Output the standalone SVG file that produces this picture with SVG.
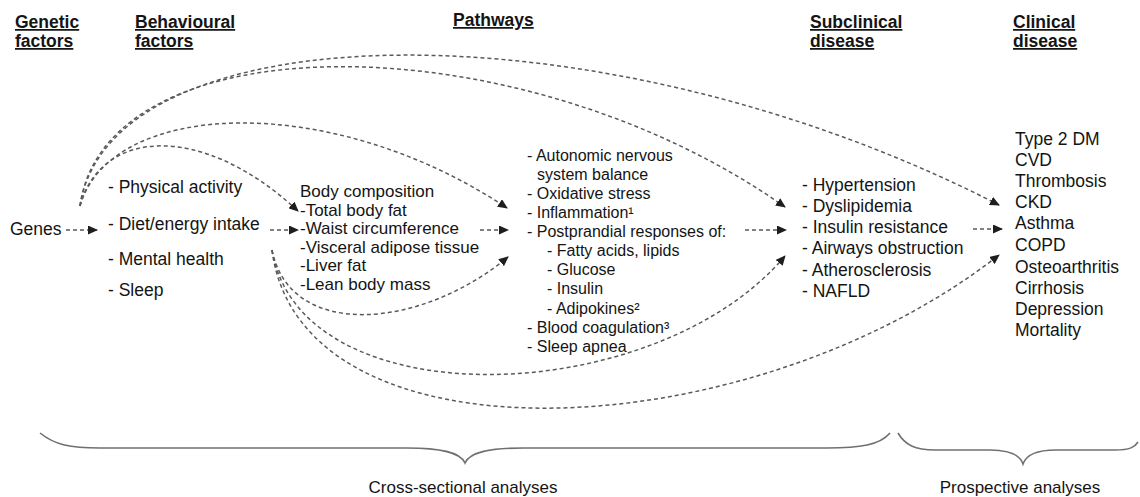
<svg xmlns="http://www.w3.org/2000/svg" width="1140" height="497" viewBox="0 0 1140 497">
<style>
text{font-family:"Liberation Sans",Arial,sans-serif;fill:#141414}
.h{font-weight:bold;font-size:17.5px;text-decoration:underline}
.l{font-size:17.5px}
.b{font-size:17px}
.p{font-size:16px}
.s{font-size:17.5px}
.c{font-size:17.5px}
.a{font-size:17px}
.d{fill:none;stroke:#5a5a5a;stroke-width:1.5;stroke-dasharray:4 3;marker-end:url(#ah)}
.br{fill:none;stroke:#707070;stroke-width:1.6}
</style>
<defs>
<marker id="ah" markerUnits="userSpaceOnUse" markerWidth="10" markerHeight="9" refX="9" refY="4.5" orient="auto" viewBox="0 0 10 9">
<path d="M0,0 L10,4.5 L0,9 z" fill="#1e1e1e"/>
</marker>
</defs>
<rect width="1140" height="497" fill="#fff"/>
<g id="headers">
<text class="h" x="15" y="28">Genetic</text>
<text class="h" x="15" y="47">factors</text>
<text class="h" x="135" y="28">Behavioural</text>
<text class="h" x="135" y="47">factors</text>
<text class="h" x="453" y="26">Pathways</text>
<text class="h" x="810" y="28">Subclinical</text>
<text class="h" x="810" y="47">disease</text>
<text class="h" x="1013" y="28">Clinical</text>
<text class="h" x="1013" y="47">disease</text>
</g>
<g id="genes"><text class="l" x="10" y="235">Genes</text></g>
<g id="behavioural">
<text class="l" x="108" y="193">- Physical activity</text>
<text class="l" x="108" y="230">- Diet/energy intake</text>
<text class="l" x="108" y="265">- Mental health</text>
<text class="l" x="108" y="296">- Sleep</text>
</g>
<g id="body-composition">
<text class="b" x="300" y="197">Body composition</text>
<text class="b" x="300" y="216">-Total body fat</text>
<text class="b" x="300" y="234">-Waist circumference</text>
<text class="b" x="300" y="253">-Visceral adipose tissue</text>
<text class="b" x="300" y="271">-Liver fat</text>
<text class="b" x="300" y="290">-Lean body mass</text>
</g>
<g id="pathways">
<text class="p" x="527" y="161">- Autonomic nervous</text>
<text class="p" x="537" y="180">system balance</text>
<text class="p" x="527" y="199">- Oxidative stress</text>
<text class="p" x="527" y="218">- Inflammation¹</text>
<text class="p" x="527" y="237">- Postprandial responses of:</text>
<text class="p" x="547" y="256">- Fatty acids, lipids</text>
<text class="p" x="547" y="275">- Glucose</text>
<text class="p" x="547" y="294">- Insulin</text>
<text class="p" x="547" y="314">- Adipokines²</text>
<text class="p" x="527" y="333">- Blood coagulation³</text>
<text class="p" x="527" y="352">- Sleep apnea</text>
</g>
<g id="subclinical">
<text class="s" x="802" y="191">- Hypertension</text>
<text class="s" x="802" y="212">- Dyslipidemia</text>
<text class="s" x="802" y="233">- Insulin resistance</text>
<text class="s" x="802" y="254">- Airways obstruction</text>
<text class="s" x="802" y="276">- Atherosclerosis</text>
<text class="s" x="802" y="297">- NAFLD</text>
</g>
<g id="clinical">
<text class="c" x="1015" y="145">Type 2 DM</text>
<text class="c" x="1015" y="166">CVD</text>
<text class="c" x="1015" y="187">Thrombosis</text>
<text class="c" x="1015" y="208">CKD</text>
<text class="c" x="1015" y="229">Asthma</text>
<text class="c" x="1015" y="251">COPD</text>
<text class="c" x="1015" y="273">Osteoarthritis</text>
<text class="c" x="1015" y="294">Cirrhosis</text>
<text class="c" x="1015" y="315">Depression</text>
<text class="c" x="1015" y="336">Mortality</text>
</g>
<g id="connectors">
<path class="d" d="M66,230 L97,230"/>
<path class="d" d="M270,230 L298,230"/>
<path class="d" d="M480,230 L508,230"/>
<path class="d" d="M745,230 L786,230"/>
<path class="d" d="M973,229 L1002,229"/>
<path class="d" d="M80,206 C110,10 600,0 999,205"/>
<path class="d" d="M80,206 C105,20 520,20 785,207"/>
<path class="d" d="M80,206 C110,100 330,90 507,208"/>
<path class="d" d="M80,206 C100,130 200,120 298,211"/>
<path class="d" d="M272,250 C290,340 420,330 508,257"/>
<path class="d" d="M272,250 C300,420 655,410 785,256"/>
<path class="d" d="M272,250 C300,470 750,450 999,255"/>
</g>
<g id="braces">
<path class="br" d="M40,433 C55,445 70,448 100,448 L407,448 C440,448 460,452 465,463 C470,452 490,448 523,448 L827,448 C860,448 880,445 890,433"/>
<path class="br" d="M898,433 C905,445 915,450 935,450 L990,450 C1010,450 1020,455 1023,464 C1026,455 1036,450 1056,450 L1115,450 C1130,450 1135,447 1138,442"/>
</g>
<g id="labels">
<text class="a" x="463" y="493" text-anchor="middle">Cross-sectional analyses</text>
<text class="a" x="1020" y="493" text-anchor="middle">Prospective analyses</text>
</g>
</svg>
